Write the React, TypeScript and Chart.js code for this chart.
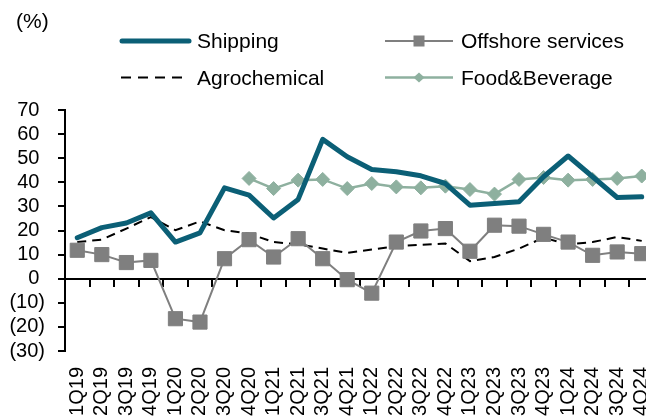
import React, { useEffect, useRef } from 'react';
import { Chart, registerables } from 'chart.js';

Chart.register(...registerables);

const categories = [
  '1Q19', '2Q19', '3Q19', '4Q19',
  '1Q20', '2Q20', '3Q20', '4Q20',
  '1Q21', '2Q21', '3Q21', '4Q21',
  '1Q22', '2Q22', '3Q22', '4Q22',
  '1Q23', '2Q23', '3Q23', '4Q23',
  '1Q24', '2Q24', '3Q24', '4Q24',
];

const shipping = [17.0, 21.2, 23.1, 27.3, 15.2, 19.0, 37.7, 34.7, 25.2, 32.9, 57.8, 50.6, 45.3, 44.4, 42.7, 39.5, 30.5, 31.2, 31.9, 42.3, 50.9, 42.3, 33.7, 34.0];
const offshore = [11.8, 10.0, 6.7, 7.6, -16.6, -18.0, 8.3, 16.2, 9.0, 16.6, 8.3, -0.4, -6.0, 15.2, 19.8, 20.8, 11.4, 22.2, 21.8, 18.4, 15.2, 9.7, 11.1, 10.4];
const agrochemical = [15.2, 16.2, 20.8, 25.6, 20.1, 23.8, 20.1, 18.7, 15.2, 14.3, 12.5, 10.7, 12.1, 13.4, 14.1, 14.6, 7.3, 9.0, 12.5, 17.0, 14.3, 15.2, 17.3, 15.7];
const foodBeverage = [null, null, null, null, null, null, null, 41.6, 37.4, 40.9, 41.2, 37.4, 39.5, 38.1, 37.7, 38.4, 37.0, 35.1, 41.2, 42.0, 40.9, 41.2, 41.6, 42.6];

const yMin = -30;
const yMax = 70;
const yStep = 10;

const seriesNames = ['Shipping', 'Offshore services', 'Agrochemical', 'Food&Beverage'];
const unitLabel = '(%)';

const TEAL = '#0b5f76';
const GREY = '#7f7f7f';
const SAGE = '#8eb09f';
const FONT = "Arial, 'Liberation Sans', sans-serif";

export default function App() {
  const ref = useRef<HTMLCanvasElement>(null);

  useEffect(() => {
    const canvas = ref.current;
    if (!canvas) return;
    const chart = new Chart(canvas, {
      type: 'line',
      data: {
        labels: categories,
        datasets: [
          {
            label: seriesNames[0],
            data: shipping,
            borderColor: TEAL,
            backgroundColor: TEAL,
            borderWidth: 5,
            pointRadius: 0,
            borderJoinStyle: 'round',
            borderCapStyle: 'round',
            tension: 0,
          },
          {
            label: seriesNames[1],
            data: offshore,
            borderColor: GREY,
            backgroundColor: GREY,
            borderWidth: 2,
            pointStyle: 'rect',
            pointRadius: 10,
            pointBorderWidth: 1,
            pointBackgroundColor: GREY,
            pointBorderColor: GREY,
            tension: 0,
          },
          {
            label: seriesNames[2],
            data: agrochemical,
            borderColor: '#000',
            backgroundColor: '#000',
            borderWidth: 2,
            borderDash: [9, 6],
            pointRadius: 0,
            tension: 0,
          },
          {
            label: seriesNames[3],
            data: foodBeverage,
            borderColor: SAGE,
            backgroundColor: SAGE,
            borderWidth: 2.5,
            pointStyle: 'rectRot',
            pointRadius: 7,
            pointBorderWidth: 1,
            pointBackgroundColor: SAGE,
            pointBorderColor: SAGE,
            tension: 0,
          },
        ],
      },
      options: {
        animation: false,
        responsive: false,
        maintainAspectRatio: false,
        devicePixelRatio: 1,
        layout: { padding: { top: 110, right: 16, bottom: 0, left: 0 } },
        plugins: {
          legend: { display: false },
          tooltip: { enabled: false },
        },
        font: { family: FONT, size: 20 },
        scales: {
          x: {
            type: 'category',
            position: 'bottom',
            offset: true,
            grid: { display: false },
            border: { display: false },
            ticks: {
              autoSkip: false,
              minRotation: 90,
              maxRotation: 90,
              padding: 8,
              color: '#000',
              font: { family: FONT, size: 20 },
            },
            afterFit: (scale: any) => {
              scale.height = 65;
              scale.paddingLeft = 0;
              scale.paddingRight = 0;
            },
          },
          x2: {
            type: 'category',
            position: { y: 0 },
            offset: true,
            grid: {
              display: true,
              drawOnChartArea: false,
              drawTicks: true,
              tickLength: 7,
              color: '#000',
              lineWidth: 2,
              offset: true,
            },
            border: { display: true, color: '#000', width: 2 },
            ticks: { display: false },
          },
          y: {
            type: 'linear',
            position: 'left',
            min: yMin,
            max: yMax,
            grid: {
              drawOnChartArea: false,
              drawTicks: true,
              tickLength: 7,
              color: '#000',
              lineWidth: 2,
            },
            border: { display: true, color: '#000', width: 2 },
            ticks: {
              stepSize: yStep,
              autoSkip: false,
              padding: 13,
              color: '#000',
              font: { family: FONT, size: 20 },
              callback: (v: any) => (Number(v) < 0 ? `(${Math.abs(Number(v))})` : `${v} `),
            },
            afterFit: (scale: any) => {
              scale.width = 65;
              scale.paddingTop = 0;
              scale.paddingBottom = 0;
            },
          },
        },
      } as any,
    });
    return () => chart.destroy();
  }, []);

  const textStyle = (left: number, cy: number): React.CSSProperties => ({
    position: 'absolute',
    left,
    top: cy - 12,
    height: 24,
    lineHeight: '24px',
    fontFamily: FONT,
    fontSize: 21,
    color: '#000',
    whiteSpace: 'nowrap',
  });

  return (
    <div
      style={{
        position: 'fixed',
        left: 0,
        top: 0,
        width: 646,
        height: 416,
        overflow: 'hidden',
        background: '#fff',
      }}
    >
      <canvas ref={ref} width={670} height={416} style={{ position: 'absolute', left: 0, top: 0 }} />
      <svg width={646} height={100} style={{ position: 'absolute', left: 0, top: 0 }}>
        <line x1={122} y1={41} x2={189} y2={41} stroke={TEAL} strokeWidth={5} strokeLinecap="round" />
        <line x1={385} y1={41} x2={453} y2={41} stroke={GREY} strokeWidth={2} />
        <rect x={413.5} y={35.5} width={11} height={11} fill={GREY} />
        <line x1={121} y1={77.5} x2={183} y2={77.5} stroke="#000" strokeWidth={2} strokeDasharray="10 7" />
        <line x1={385} y1={77.5} x2={453} y2={77.5} stroke={SAGE} strokeWidth={2.5} />
        <polygon points="419,72.5 424.5,77.5 419,82.5 413.5,77.5" fill={SAGE} />
      </svg>
      <div style={textStyle(16, 21)}>{unitLabel}</div>
      <div style={textStyle(197, 41)}>{seriesNames[0]}</div>
      <div style={textStyle(461, 41)}>{seriesNames[1]}</div>
      <div style={textStyle(197, 77.5)}>{seriesNames[2]}</div>
      <div style={textStyle(461, 77.5)}>{seriesNames[3]}</div>
    </div>
  );
}
